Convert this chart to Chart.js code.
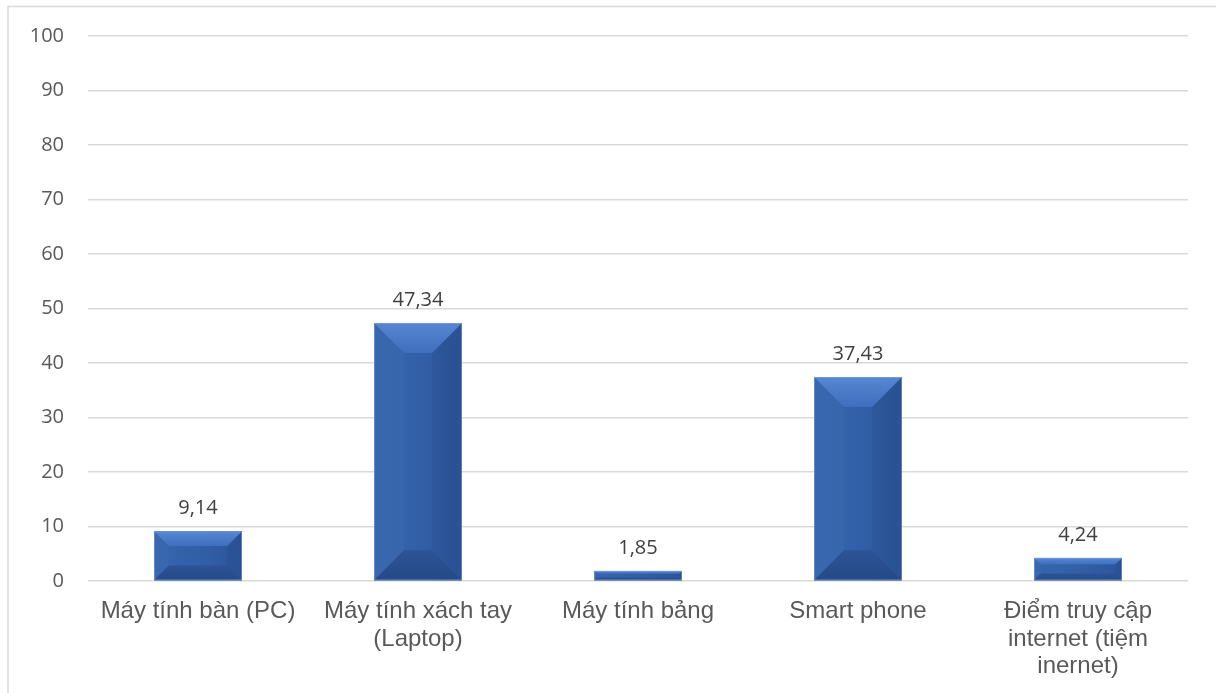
<!DOCTYPE html>
<html lang="vi">
<head>
<meta charset="utf-8">
<title>Thiết bị truy cập internet</title>
<script src="https://cdn.jsdelivr.net/npm/chart.js@4.4.1/dist/chart.umd.min.js"></script>
<style>
  html, body { margin: 0; padding: 0; background: #ffffff; }
  #wrap { position: relative; width: 1216px; height: 693px; }
  canvas { display: block; }
</style>
</head>
<body>
<div id="wrap"><canvas id="chart" width="1216" height="693"></canvas></div>
<script>
// Devices used to access the internet (%)
const categories = [
  'Máy tính bàn (PC)',
  ['Máy tính xách tay', '(Laptop)'],
  'Máy tính bảng',
  'Smart phone',
  ['Điểm truy cập', 'internet (tiệm', 'inernet)']
];
const shares = [9.14, 47.34, 1.85, 37.43, 4.24];
const yTicks = [0, 10, 20, 30, 40, 50, 60, 70, 80, 90, 100];

const fmt = v => v.toFixed(2).replace('.', ',');

// Outer frame lines of the chart box
const framePlugin = {
  id: 'frame',
  beforeDraw(chart) {
    const ctx = chart.ctx;
    ctx.save();
    ctx.fillStyle = '#ffffff';
    ctx.fillRect(0, 0, chart.width, chart.height);
    ctx.strokeStyle = '#d9d9d9';
    ctx.lineWidth = 1.5;
    ctx.beginPath();
    ctx.moveTo(8, chart.height);
    ctx.lineTo(8, 6.5);
    ctx.lineTo(chart.width, 6.5);
    ctx.stroke();
    ctx.restore();
  }
};

// Bevelled faces drawn over each bar, from the bar element geometry
const bevelPlugin = {
  id: 'bevel',
  afterDatasetsDraw(chart) {
    const ctx = chart.ctx;
    chart.getDatasetMeta(0).data.forEach(bar => {
      const p = bar.getProps(['x', 'y', 'base', 'width'], true);
      const L = p.x - p.width / 2, R = p.x + p.width / 2;
      const T = Math.min(p.y, p.base), B = Math.max(p.y, p.base);
      const h = B - T, w = R - L;
      const d = Math.min(30, h * 0.3, w * 0.34);
      ctx.save();
      // main face
      const g = ctx.createLinearGradient(L, 0, R, 0);
      g.addColorStop(0, '#3665ae');
      g.addColorStop(0.5, '#3260a8');
      g.addColorStop(1, '#2c5599');
      ctx.fillStyle = g;
      ctx.fillRect(L, T, w, h);
      // left facet
      ctx.fillStyle = 'rgba(110,150,215,0.07)';
      ctx.beginPath();
      ctx.moveTo(L, T); ctx.lineTo(L + d, T + d); ctx.lineTo(L + d, B - d); ctx.lineTo(L, B);
      ctx.closePath(); ctx.fill();
      // right facet
      ctx.fillStyle = 'rgba(20,45,95,0.1)';
      ctx.beginPath();
      ctx.moveTo(R, T); ctx.lineTo(R - d, T + d); ctx.lineTo(R - d, B - d); ctx.lineTo(R, B);
      ctx.closePath(); ctx.fill();
      // top facet
      const gt = ctx.createLinearGradient(0, T, 0, T + d);
      gt.addColorStop(0, '#5787d3');
      gt.addColorStop(1, '#3f6fbc');
      ctx.fillStyle = gt;
      ctx.beginPath();
      ctx.moveTo(L, T); ctx.lineTo(R, T); ctx.lineTo(R - d, T + d); ctx.lineTo(L + d, T + d);
      ctx.closePath(); ctx.fill();
      // bottom facet
      const gb = ctx.createLinearGradient(0, B - d, 0, B);
      gb.addColorStop(0, '#2c5396');
      gb.addColorStop(1, '#264a88');
      ctx.fillStyle = gb;
      ctx.beginPath();
      ctx.moveTo(L, B); ctx.lineTo(R, B); ctx.lineTo(R - d, B - d); ctx.lineTo(L + d, B - d);
      ctx.closePath(); ctx.fill();
      // thin light outline
      ctx.strokeStyle = 'rgba(140,170,220,0.5)';
      ctx.lineWidth = 1;
      ctx.strokeRect(L + 0.5, T + 0.5, w - 1, h - 1);
      ctx.restore();
    });
  }
};

// Value labels above the bars
const valueLabelPlugin = {
  id: 'valueLabels',
  afterDatasetsDraw(chart) {
    const ctx = chart.ctx;
    const ds = chart.data.datasets[0];
    ctx.save();
    ctx.font = '20px "Open Sans", sans-serif';
    ctx.fillStyle = '#404040';
    ctx.textAlign = 'center';
    ctx.textBaseline = 'alphabetic';
    chart.getDatasetMeta(0).data.forEach((bar, i) => {
      const p = bar.getProps(['x', 'y'], true);
      ctx.fillText(fmt(ds.data[i]), p.x, p.y - 17);
    });
    ctx.restore();
  }
};

new Chart(document.getElementById('chart'), {
  type: 'bar',
  data: {
    labels: categories,
    datasets: [{
      data: shares,
      backgroundColor: '#3260a8',
      borderWidth: 0,
      categoryPercentage: 0.8,
      barPercentage: 0.5
    }]
  },
  options: {
    responsive: false,
    animation: false,
    devicePixelRatio: 1,
    layout: { padding: { left: 0, right: 28, top: 36, bottom: 0 } },
    plugins: {
      legend: { display: false },
      tooltip: { enabled: false }
    },
    scales: {
      x: {
        grid: { display: false, drawTicks: false },
        border: { display: false },
        ticks: {
          color: '#595959',
          padding: 17,
          maxRotation: 0,
          autoSkip: false,
          font: { family: '"Liberation Sans", Arial, sans-serif', size: 24, lineHeight: 1.14 }
        },
        afterFit(scale) { scale.height = 112; }
      },
      y: {
        min: 0,
        max: 100,
        afterBuildTicks(scale) { scale.ticks = yTicks.map(v => ({ value: v })); },
        grid: { color: '#d9d9d9', lineWidth: 1.5, drawTicks: false },
        border: { display: false },
        ticks: {
          color: '#595959',
          padding: 24,
          font: { family: '"Open Sans", sans-serif', size: 20 }
        },
        afterFit(scale) { scale.width = 88; }
      }
    }
  },
  plugins: [framePlugin, bevelPlugin, valueLabelPlugin]
});
</script>
</body>
</html>
